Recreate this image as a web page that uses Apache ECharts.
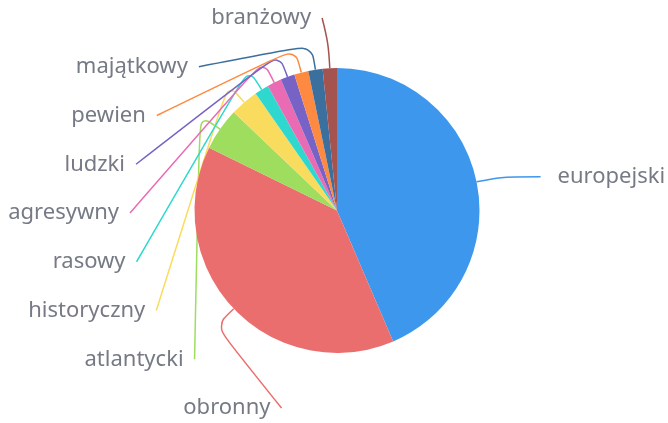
<!DOCTYPE html>
<html><head><meta charset="utf-8">
<script src="https://cdn.jsdelivr.net/npm/echarts@6/dist/echarts.min.js"></script>
<style>html,body{margin:0;padding:0;background:#fff}#c{width:668px;height:423px}</style>
</head><body><div id="c"></div>
<script>
var categories = ['europejski','obronny','atlantycki','historyczny','rasowy','agresywny','ludzki','pewien','majątkowy','branżowy'];
var values = [27, 24, 3, 2, 1, 1, 1, 1, 1, 1];
var colors = ['#3d97ec','#eb6e6e','#9fdd5f','#f9dc5e','#2fd8cf','#e96bb4','#7763c6','#fd8a40','#3b6f9e','#a4534f'];

// layout parameters
var CX = 337, CY = 210.5, R = 142.5;
var LEN1 = 25, LEN2 = 39.5, SLOT = 48.75, MAXDY = 197.5;
var RB_TOP = 193, RB_BOTTOM = 205, GAP_L = 11, GAP_R = 17;

function computeLabelLayout() {
  var total = values.reduce(function(a,b){return a+b;}, 0);
  var cum = 0, items = [];
  values.forEach(function(v, i){
    var a0 = cum / total * 2 * Math.PI; cum += v;
    var a1 = cum / total * 2 * Math.PI;
    var m = (a0 + a1) / 2, sx = Math.sin(m), sy = -Math.cos(m);
    items.push({
      i: i,
      p0: [CX + R * sx, CY + R * sy],
      p1: [CX + (R + LEN1) * sx, CY + (R + LEN1) * sy],
      dir: sx < 0 ? -1 : 1
    });
  });
  [-1, 1].forEach(function(dir){
    var list = items.filter(function(it){return it.dir === dir;})
                    .sort(function(a,b){return a.p1[1] - b.p1[1];});
    if (!list.length) return;
    list.forEach(function(it){ it.y = it.p1[1]; });
    for (var k = 1; k < list.length; k++) list[k].y = Math.max(list[k].y, list[k-1].y + SLOT);
    var n = list.length;
    if (list[n-1].y > CY + MAXDY) {
      list[n-1].y = CY + MAXDY;
      for (k = n - 2; k >= 0; k--) list[k].y = Math.min(list[k].y, list[k+1].y - SLOT);
    }
    if (list[0].y < CY - MAXDY) {
      list[0].y = CY - MAXDY;
      for (k = 1; k < n; k++) list[k].y = Math.max(list[k].y, list[k-1].y + SLOT);
    }
    var shifted = list.some(function(it){ return Math.abs(it.y - it.p1[1]) > 0.5; });
    list.forEach(function(it){
      if (shifted) {
        var dy = it.y - CY, rB = dy < 0 ? RB_TOP : RB_BOTTOM;
        var t = Math.max(0, 1 - dy * dy / (rB * rB));
        var dx = (R + LEN1 + LEN2) * Math.sqrt(t);
        it.p2 = [CX + dir * dx, it.y];
      } else {
        it.p2 = [it.p1[0] + dir * LEN2, it.p1[1]];
      }
    });
  });
  return items;
}
var labelItems = computeLabelLayout();

var chart = echarts.init(document.getElementById('c'), null, {renderer:'canvas'});
chart.setOption({
  animation: false,
  color: colors,
  series: [{
    type: 'pie',
    center: [CX, CY],
    radius: R,
    startAngle: 90,
    avoidLabelOverlap: false,
    data: categories.map(function(c,i){return {name:c, value: values[i]};}),
    label: {
      color: '#767a85',
      fontFamily: 'Noto Sans',
      fontSize: 22,
      overflow: 'none'
    },
    labelLine: {
      length: LEN1,
      length2: LEN2,
      smooth: 0.35,
      lineStyle: {width: 1.5}
    },
    labelLayout: function(params){
      var it = labelItems[params.dataIndex];
      return {
        x: it.p2[0] + it.dir * (it.dir < 0 ? GAP_L : GAP_R),
        y: it.y,
        align: it.dir < 0 ? 'right' : 'left',
        verticalAlign: 'middle',
        labelLinePoints: [it.p0, it.p1, it.p2]
      };
    }
  }]
});
</script></body></html>
